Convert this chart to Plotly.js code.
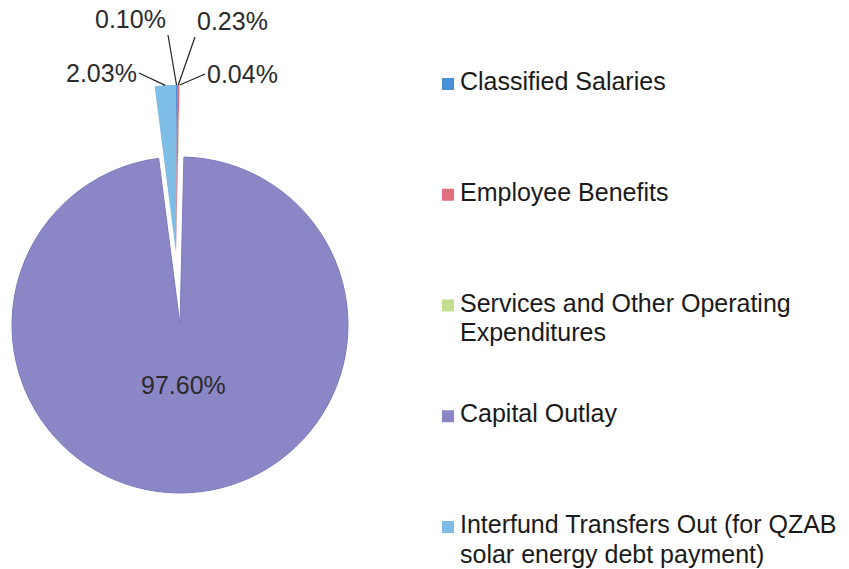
<!DOCTYPE html>
<html>
<head>
<meta charset="utf-8">
<script src="https://cdn.plot.ly/plotly-3.0.1.min.js"></script>
<style>html,body{margin:0;padding:0;background:#fff;}#chart{width:849px;height:569px;}</style>
</head>
<body>
<div id="chart"></div>
<script>
// ---- data ----
const categories = [
  'Classified Salaries',
  'Employee Benefits',
  'Services and Other Operating<br>Expenditures',
  'Capital Outlay',
  'Interfund Transfers Out (for QZAB<br>solar energy debt payment)'
];
const shares = [0.10, 0.23, 0.04, 97.60, 2.03];
const colors = ['#4A90D9', '#E0707F', '#C5DD8F', '#8B87C7', '#7DBDE6'];
const mainIndex = 3; // the large slice, drawn as its own layer

// ---- layout constants ----
const W = 849, H = 569;
const FONT = '"Liberation Sans", Arial, sans-serif';
const pieMain = {cx: 180, cy: 325, r: 168};   // big slice layer
const pieSmall = {cx: 176, cy: 253, r: 168};  // exploded small slices layer

function domainOf(p) {
  return {x: [(p.cx - p.r) / W, (p.cx + p.r) / W], y: [1 - (p.cy + p.r) / H, 1 - (p.cy - p.r) / H]};
}
const clear = 'rgba(0,0,0,0)';

const traceMain = {
  type: 'pie', labels: categories, values: shares, sort: false, direction: 'clockwise', rotation: 0,
  domain: domainOf(pieMain),
  marker: {
    colors: colors.map((c, i) => i === mainIndex ? c : clear),
    line: {width: shares.map((v, i) => i === mainIndex ? 1 : 0), color: '#7d79bd'}
  },
  textinfo: 'none', hoverinfo: 'none', showlegend: false
};
const traceSmall = {
  type: 'pie', labels: categories, values: shares, sort: false, direction: 'clockwise', rotation: 0,
  domain: domainOf(pieSmall),
  marker: {
    colors: colors.map((c, i) => i === mainIndex ? clear : c),
    line: {width: 0}
  },
  textinfo: 'none', hoverinfo: 'none', showlegend: false
};

// outside labels for the small slices (tail point of leader line, anchors)
const labelPlace = {
  0: {tx: 168, ty: 35, xa: 'right', ya: 'bottom'},
  1: {tx: 195, ty: 37, xa: 'left', ya: 'bottom'},
  2: {tx: 205, ty: 74, xa: 'left', ya: 'middle'},
  4: {tx: 139, ty: 73, xa: 'right', ya: 'middle'}
};
const insideRadiusFrac = 0.36; // label of the big slice, fraction of radius along its bisector
const total = shares.reduce((a, b) => a + b, 0);
const annotations = [];
let cum = 0;
shares.forEach((v, i) => {
  const mid = (cum + v / 2) / total * 2 * Math.PI;
  cum += v;
  const txt = (v / total * 100).toFixed(2) + '%';
  if (i === mainIndex) {
    const lx = pieMain.cx + insideRadiusFrac * pieMain.r * Math.sin(mid);
    const ly = pieMain.cy - insideRadiusFrac * pieMain.r * Math.cos(mid);
    annotations.push({
      xref: 'paper', yref: 'paper', x: lx / W, y: 1 - ly / H, xanchor: 'center', yanchor: 'middle',
      text: txt, showarrow: false, font: {family: FONT, size: 25, color: '#2b2b2b'}
    });
    return;
  }
  const pl = labelPlace[i];
  if (!pl) return;
  const tipX = pieSmall.cx + pieSmall.r * Math.sin(mid);
  const tipY = pieSmall.cy - pieSmall.r * Math.cos(mid);
  annotations.push({
    xref: 'paper', yref: 'paper', x: tipX / W, y: 1 - tipY / H,
    ax: pl.tx - tipX, ay: pl.ty - tipY, axref: 'pixel', ayref: 'pixel',
    xanchor: pl.xa, yanchor: pl.ya,
    text: txt,
    showarrow: true, arrowhead: 0, arrowwidth: 1.2, arrowcolor: '#222', standoff: 0, startstandoff: 0,
    font: {family: FONT, size: 25, color: '#2b2b2b'}
  });
});

// legend drawn as text + squares (each wrapped line placed separately)
const shapes = [];
const legendLineGap = 30;
categories.forEach((c, i) => {
  const rowY = 84 + i * 110.75;
  shapes.push({type: 'rect', xref: 'paper', yref: 'paper',
    x0: 442 / W, x1: 454 / W, y0: 1 - (rowY + 6) / H, y1: 1 - (rowY - 6) / H,
    fillcolor: colors[i], line: {width: 0}});
  c.split('<br>').forEach((line, k) => {
    annotations.push({
      xref: 'paper', yref: 'paper', x: 459 / W, y: 1 - (rowY - 3 + k * legendLineGap) / H,
      xanchor: 'left', yanchor: 'middle', align: 'left', showarrow: false, borderpad: 0,
      text: line, font: {family: FONT, size: 25, color: '#1a1a1a'}
    });
  });
});

const layout = {
  width: W, height: H,
  margin: {l: 0, r: 0, t: 0, b: 0},
  paper_bgcolor: '#fff', plot_bgcolor: '#fff',
  showlegend: false,
  font: {family: FONT},
  annotations: annotations, shapes: shapes
};
Plotly.newPlot('chart', [traceMain, traceSmall], layout, {displayModeBar: false, staticPlot: true});
</script>
</body>
</html>
